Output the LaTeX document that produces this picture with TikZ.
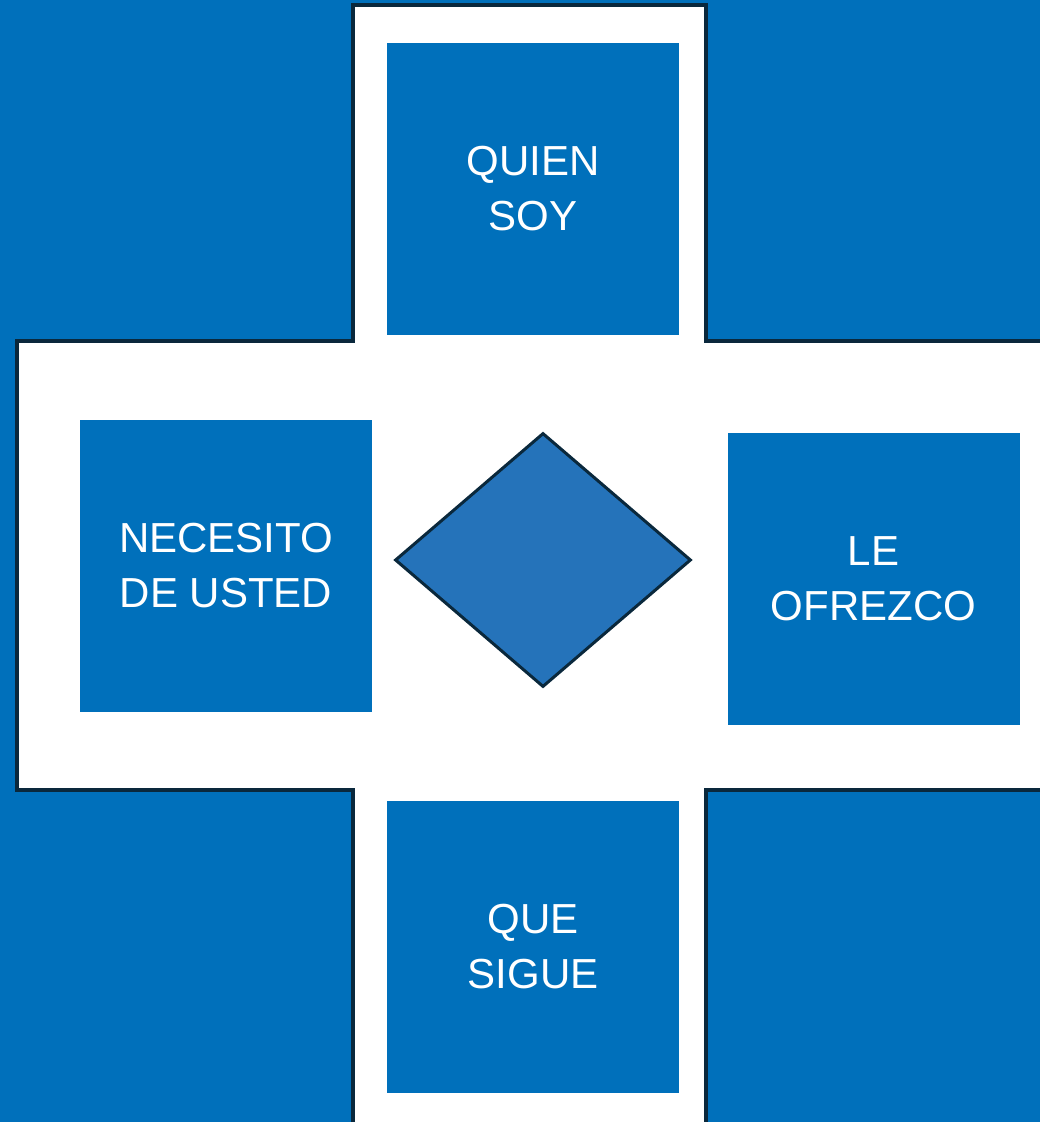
\documentclass[tikz,border=0pt]{standalone}
\usepackage{fontspec}
\setmainfont{Liberation Sans}
\usetikzlibrary{shapes.geometric}
\definecolor{fondo}{RGB}{0,112,187}
\definecolor{rombo}{RGB}{37,115,186}
\definecolor{borde}{RGB}{10,40,60}
\tikzset{
	cuadro/.style={fill=fondo, text=white, minimum size=292pt, inner sep=0pt, align=center, font=\fontsize{42}{55}\selectfont},
}
\begin{document}
\begin{tikzpicture}[x=1pt,y=-1pt]
		% page
		\useasboundingbox (0,0) rectangle (1040,1122);
		\clip (0,0) rectangle (1040,1122);
		\fill[fondo] (0,0) rectangle (1040,1122);
		% cross
		\draw[fill=white,draw=borde,line width=4pt] (353,5) -- (706,5) -- (706,341) -- (1050,341) -- (1050,790) -- (706,790) -- (706,1130) -- (353,1130) -- (353,790) -- (17,790) -- (17,341) -- (353,341) -- cycle;
		% squares
		\node[cuadro] (quien) at (533,188.5) {QUIEN\\SOY};
		\node[cuadro] (necesito) at (226,565.5) {NECESITO\\DE USTED};
		\node[cuadro] (ofrezco) at (873.5,578.5) {LE\\OFREZCO};
		\node[cuadro] (sigue) at (533,946.5) {QUE\\SIGUE};
		% center
		\node[diamond,draw=borde,fill=rombo,line width=3pt,minimum width=296pt,minimum height=254pt,inner sep=0pt] (centro) at (543,560) {};
\end{tikzpicture}
\end{document}
